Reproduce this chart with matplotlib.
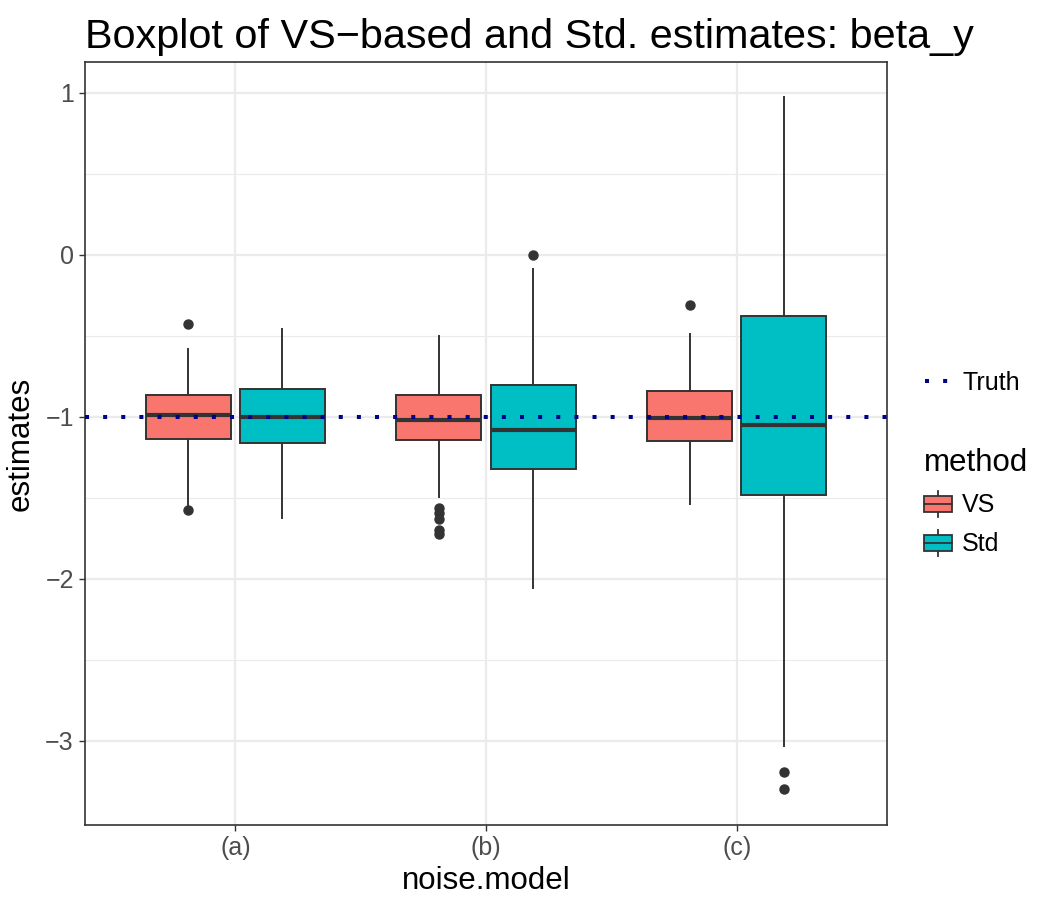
import numpy as np
import matplotlib
matplotlib.use("Agg")
import matplotlib.pyplot as plt
from matplotlib.lines import Line2D
from matplotlib.patches import Rectangle, Patch
from matplotlib.legend_handler import HandlerBase

plt.rcParams["font.family"] = ["Liberation Sans", "DejaVu Sans"]

# ── Data ──────────────────────────────────────────────────────────
groups  = ["(a)", "(b)", "(c)"]
methods = ["VS", "Std"]
colors  = ["#F8766D", "#00BFC4"]
truth   = -1.0

# per method: one value per group
q1      = {"VS": [-1.136, -1.142, -1.148], "Std": [-1.160, -1.320, -1.483]}
med     = {"VS": [-0.992, -1.017, -1.008], "Std": [-1.000, -1.084, -1.052]}
q3      = {"VS": [-0.863, -0.867, -0.838], "Std": [-0.826, -0.803, -0.376]}
whislo  = {"VS": [-1.550, -1.495, -1.540], "Std": [-1.627, -2.060, -3.033]}
whishi  = {"VS": [-0.580, -0.499, -0.489], "Std": [-0.458, -0.088, 0.975]}
fliers  = {"VS":  [[-0.425, -1.576], [-1.561, -1.592, -1.629, -1.700, -1.725], [-0.312]],
           "Std": [[], [0.0], [-3.19, -3.30]]}

EDGE = "#333333"
BOX_W  = 0.34
OFFSET = 0.188


class BoxHandler(HandlerBase):
    """ggplot-style legend key: small box with whiskers and median."""
    def create_artists(self, legend, orig_handle, xdescent, ydescent,
                       width, height, fontsize, trans):
        fc = orig_handle.get_facecolor()
        x0, y0 = -xdescent, -ydescent
        cx = x0 + width / 2
        bh = height * 0.6
        by = y0 + (height - bh) / 2
        rect = Rectangle((x0, by), width, bh, facecolor=fc, edgecolor=EDGE,
                         lw=1.3, transform=trans)
        lo = Line2D([cx, cx], [y0, by], color=EDGE, lw=1.3, transform=trans)
        hi = Line2D([cx, cx], [by + bh, y0 + height], color=EDGE, lw=1.3, transform=trans)
        md = Line2D([x0, x0 + width], [by + bh / 2] * 2, color=EDGE, lw=1.3, transform=trans)
        return [lo, hi, rect, md]


# ── Plot ──────────────────────────────────────────────────────────
fig = plt.figure(figsize=(10.5, 9), dpi=100, facecolor="white")
ax = fig.add_axes([85 / 1050, 75 / 900, 802 / 1050, 763 / 900])

xpos = np.arange(1, len(groups) + 1)
for mi, m in enumerate(methods):
    stats = []
    for gi in range(len(groups)):
        stats.append(dict(med=med[m][gi], q1=q1[m][gi], q3=q3[m][gi],
                          whislo=whislo[m][gi], whishi=whishi[m][gi],
                          fliers=fliers[m][gi]))
    pos = xpos + (OFFSET if mi else -OFFSET)
    ax.bxp(stats, positions=pos, widths=BOX_W, patch_artist=True,
           showcaps=False, manage_ticks=False,
           boxprops=dict(facecolor=colors[mi], edgecolor=EDGE, lw=1.4),
           medianprops=dict(color=EDGE, lw=3.0, solid_capstyle="butt"),
           whiskerprops=dict(color=EDGE, lw=1.4),
           flierprops=dict(marker="o", markerfacecolor=EDGE, markeredgecolor=EDGE,
                           markersize=6.5))

ax.axhline(truth, color="#00008B", lw=2.9, linestyle=(0, (1, 3.5)),
           dash_capstyle="butt", zorder=5)

ax.set_xlim(0.4, 3.6)
ax.set_ylim(-3.52, 1.19)
ax.set_xticks(xpos)
ax.set_xticklabels(groups)
ax.set_yticks([-3, -2, -1, 0, 1])
ax.set_yticks([-2.5, -1.5, -0.5, 0.5], minor=True)
ax.tick_params(axis="both", which="major", labelsize=18, labelcolor="#4D4D4D",
               color=EDGE, length=4, width=1, pad=4)
ax.tick_params(axis="y", which="minor", length=0)
ax.grid(True, which="major", color="#EBEBEB", lw=1.6)
ax.grid(True, which="minor", axis="y", color="#EBEBEB", lw=0.8)
ax.set_axisbelow(True)
for s in ax.spines.values():
    s.set_color(EDGE)
    s.set_linewidth(1.2)

ax.set_xlabel("noise.model", fontsize=22.5, labelpad=4)
ax.set_ylabel("estimates", fontsize=22.5, labelpad=7)
ax.set_title("Boxplot of VS\u2212based and Std. estimates: beta_y",
             fontsize=29.8, loc="left", pad=10)

# ── Legends ───────────────────────────────────────────────────────
truth_handle = Line2D([], [], color="#00008B", lw=2.9, linestyle=(0, (1, 3.5)),
                      dash_capstyle="butt")
leg1 = fig.legend([truth_handle], ["Truth"], loc="center left",
                  bbox_to_anchor=(925 / 1050, 1 - 383 / 900), frameon=False,
                  fontsize=18, handlelength=1.1, handletextpad=0.4,
                  borderpad=0, borderaxespad=0)
box_handles = [Patch(facecolor=c) for c in colors]
leg2 = fig.legend(box_handles, methods, title="method", loc="upper left",
                  bbox_to_anchor=(924 / 1050, 1 - 448 / 900), frameon=False,
                  fontsize=18, title_fontsize=22.5, handlelength=1.1,
                  handleheight=1.25, handletextpad=0.4, labelspacing=0.5,
                  borderpad=0, borderaxespad=0,
                  handler_map={Patch: BoxHandler()})
leg2._legend_box.align = "left"

fig.savefig("out.png", dpi=100, facecolor=fig.get_facecolor())
plt.close(fig)
